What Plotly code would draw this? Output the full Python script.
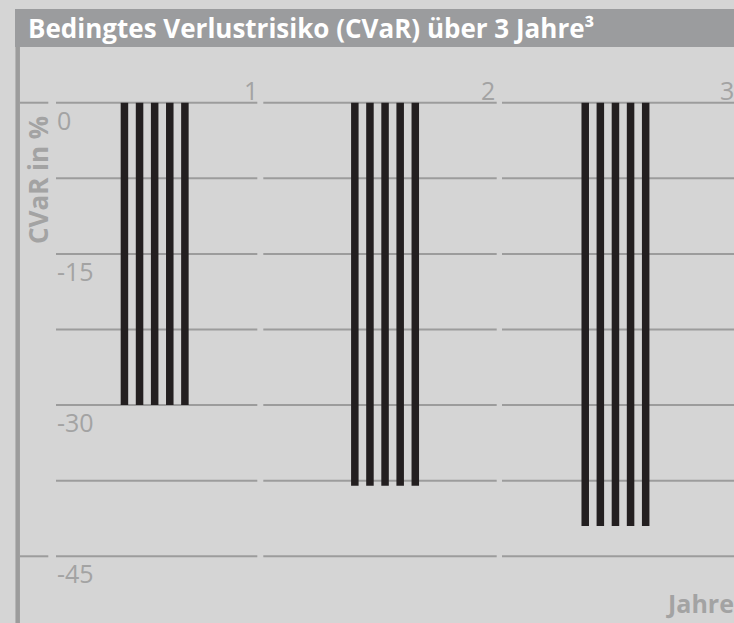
import plotly.graph_objects as go

# Daten
jahre = [1, 2, 3]
jahr_labels = ["1", "2", "3"]
serien = ["Serie 1", "Serie 2", "Serie 3", "Serie 4", "Serie 5"]
cvar_s1 = [-30, -38, -42]
cvar_s2 = [-30, -38, -42]
cvar_s3 = [-30, -38, -42]
cvar_s4 = [-30, -38, -42]
cvar_s5 = [-30, -38, -42]
y_ticks = [0, -7.5, -15, -22.5, -30, -37.5, -45]
y_labels = ["0", "-15", "-30", "-45"]

W, H = 734, 623
BG = "#d5d5d5"
GREY = "#9c9c9c"
TXT = "#a3a3a3"
BAR = "#231f20"
FONT = "Open Sans"


def px(x):
    return x / W


def py(y):
    return 1 - y / H


fig = go.Figure()
for name, vals in zip(serien, [cvar_s1, cvar_s2, cvar_s3, cvar_s4, cvar_s5]):
    fig.add_trace(go.Bar(x=jahre, y=vals, name=name, marker_color=BAR,
                         marker_line_width=0, showlegend=False))

shapes = []
# title bar and left rule
shapes.append(dict(type="rect", xref="paper", yref="paper", x0=px(15), x1=1,
                   y0=py(47), y1=py(9), fillcolor="#9b9c9e", line_width=0, layer="below"))
shapes.append(dict(type="line", xref="paper", yref="paper", x0=px(17.7), x1=px(17.7),
                   y0=py(47), y1=0, line=dict(color=GREY, width=4.5), layer="below"))

# gridlines, broken between the years
segments = [(56, 257.3), (263.3, 496.7), (502, 734)]
for v in y_ticks:
    for a, b in segments:
        shapes.append(dict(type="line", xref="paper", yref="y", x0=px(a), x1=px(b),
                           y0=v, y1=v, line=dict(color=GREY, width=2), layer="below"))
for v in [y_ticks[0], y_ticks[-1]]:
    shapes.append(dict(type="line", xref="paper", yref="y", x0=px(20), x1=px(48.3),
                       y0=v, y1=v, line=dict(color=GREY, width=2), layer="below"))

annotations = [dict(text="Bedingtes Verlustrisiko (CVaR) über 3 Jahre³", xref="paper", yref="paper",
                    x=px(26), y=py(28), xanchor="left", yanchor="middle", showarrow=False,
                    font=dict(family=FONT, size=26, color="white", weight="bold"))]
for lab, v in zip(y_labels, y_ticks[::2]):
    annotations.append(dict(text=lab, xref="paper", yref="y", x=px(55), y=v, yshift=-17,
                            xanchor="left", yanchor="middle", showarrow=False,
                            font=dict(family=FONT, size=25, color=TXT)))
for lab, xr in zip(jahr_labels, [260, 497, 736]):
    annotations.append(dict(text=lab, xref="paper", yref="y", x=px(xr), y=0, yshift=13,
                            xanchor="right", yanchor="middle", showarrow=False,
                            font=dict(family=FONT, size=25, color=TXT)))
annotations.append(dict(text="CVaR in %", xref="paper", yref="paper", x=px(38), y=py(180),
                        xanchor="center", yanchor="middle", textangle=-90, showarrow=False,
                        font=dict(family=FONT, size=26, color=TXT, weight="bold")))
annotations.append(dict(text="Jahre", xref="paper", yref="paper", x=px(736), y=py(603),
                        xanchor="right", yanchor="middle", showarrow=False,
                        font=dict(family=FONT, size=25, color=TXT, weight="bold")))

fig.update_layout(
    width=W, height=H,
    margin=dict(l=0, r=0, t=0, b=0),
    paper_bgcolor=BG, plot_bgcolor=BG,
    barmode="group", bargap=0.672, bargroupgap=0.503,
    xaxis=dict(range=[0.3287, 3.5145], visible=False),
    yaxis=dict(range=[-51.62, 10.19], visible=False),
    shapes=shapes, annotations=annotations,
    showlegend=False,
)

fig.write_html("out.html", config={"displayModeBar": False},
               post_script="document.body.style.margin='0';")
